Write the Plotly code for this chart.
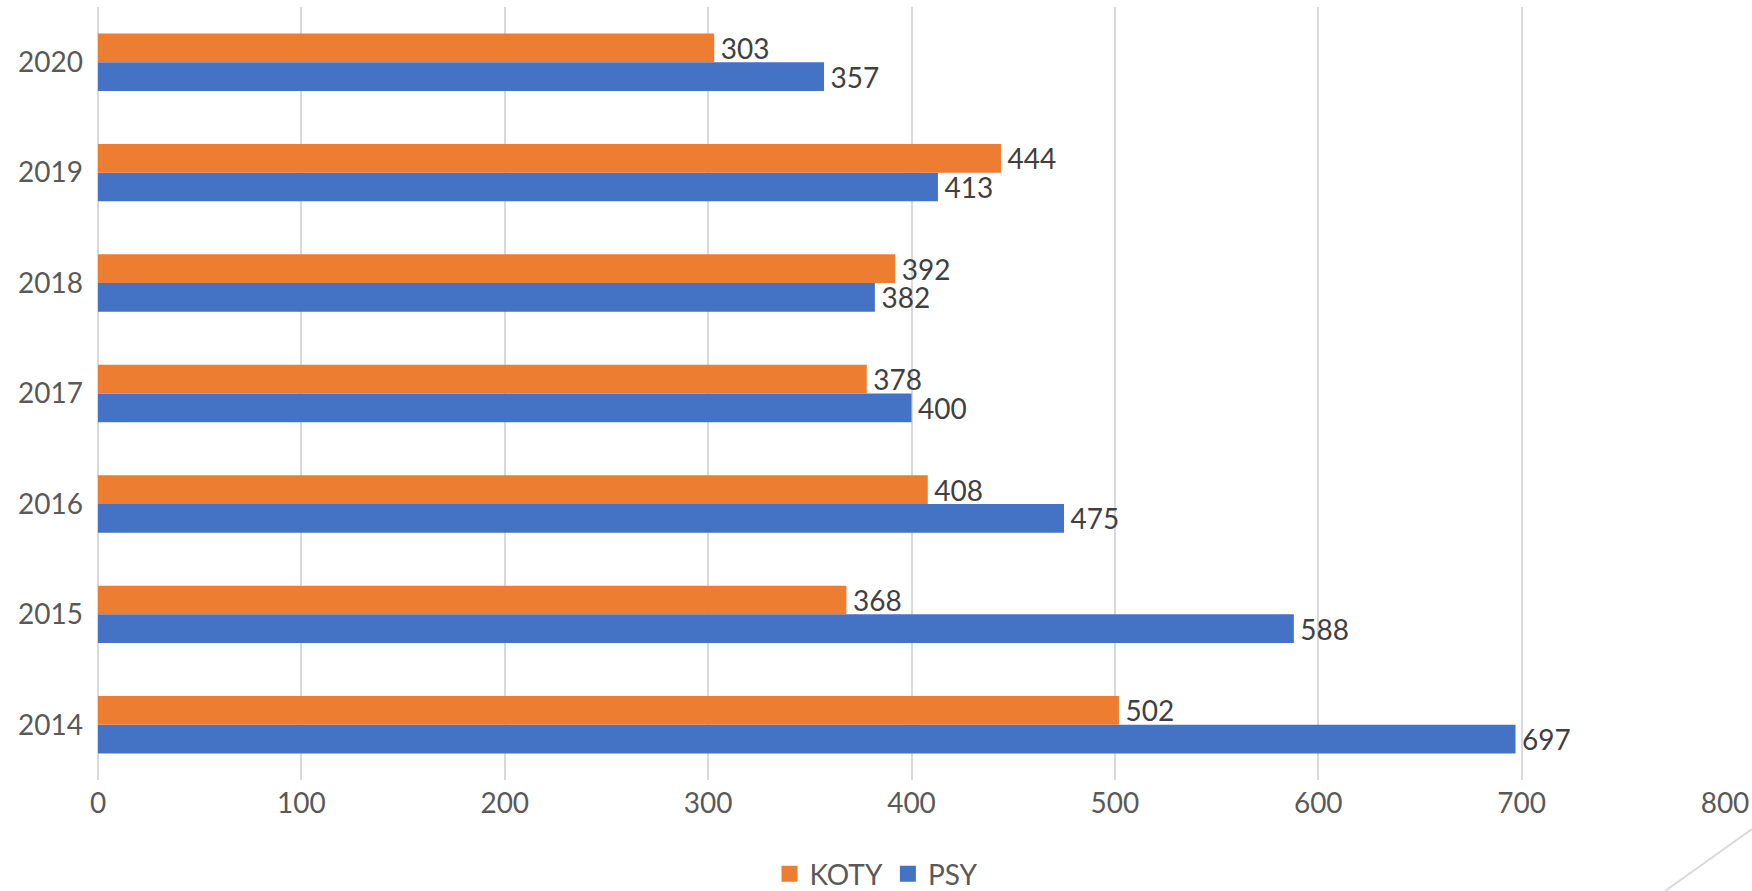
import plotly.graph_objects as go

years = ["2014", "2015", "2016", "2017", "2018", "2019", "2020"]
koty = [502, 368, 408, 378, 392, 444, 303]
psy = [697, 588, 475, 400, 382, 413, 357]
x_ticks = [0, 100, 200, 300, 400, 500, 600, 700, 800]

FONT = "Lato, Carlito, Calibri, sans-serif"
ORANGE = "#ED7D31"
BLUE = "#4472C4"

fig = go.Figure()
fig.add_trace(go.Bar(
    y=years, x=psy, name="PSY", orientation="h",
    marker=dict(color=BLUE, line=dict(width=0)),
    text=psy, texttemplate="\u2009%{x}", textposition="outside",
    textfont=dict(family=FONT, size=28, color="#404040"),
    constraintext="none", cliponaxis=False, showlegend=False,
))
fig.add_trace(go.Bar(
    y=years, x=koty, name="KOTY", orientation="h",
    marker=dict(color=ORANGE, line=dict(width=0)),
    text=koty, texttemplate="\u2009%{x}", textposition="outside",
    textfont=dict(family=FONT, size=28, color="#404040"),
    constraintext="none", cliponaxis=False, showlegend=False,
))
# legend entries with larger square keys
for name, color in [("KOTY", ORANGE), ("PSY", BLUE)]:
    fig.add_trace(go.Scatter(
        x=[None], y=[None], mode="markers", name=name,
        marker=dict(symbol="square", size=19, color=color),
        showlegend=True, hoverinfo="skip",
    ))

fig.update_layout(
    width=1752, height=891,
    margin=dict(l=98, r=27, t=7, b=111, autoexpand=False),
    paper_bgcolor="white", plot_bgcolor="white",
    barmode="group", bargap=0.48, bargroupgap=0,
    font=dict(family=FONT, size=28, color="#595959"),
    showlegend=True,
    legend=dict(
        orientation="h",
        xref="container", yref="container",
        x=0.5, xanchor="center", y=0.019, yanchor="middle",
        font=dict(family=FONT, size=28, color="#595959"),
        itemsizing="trace", itemwidth=30,
    ),
    xaxis=dict(
        range=[0, 800], tickvals=x_ticks, ticktext=[str(v) for v in x_ticks],
        showgrid=True, gridcolor="#d9d9d9", gridwidth=2,
        zeroline=True, zerolinecolor="#d9d9d9", zerolinewidth=2,
        showline=False, ticks="", ticklabelstandoff=4,
        tickfont=dict(family=FONT, size=28, color="#595959"),
        fixedrange=True, automargin=False,
    ),
    yaxis=dict(
        type="category", categoryorder="array", categoryarray=years,
        showgrid=False, zeroline=False, showline=False, ticks="",
        ticklabelstandoff=14,
        tickfont=dict(family=FONT, size=28, color="#595959"),
        fixedrange=True, automargin=False,
    ),
    shapes=[dict(
        type="line", xref="paper", yref="paper",
        x0=(1665 - 98) / (1752 - 98 - 27), y0=-111 / 773,
        x1=(1752 - 98) / (1752 - 98 - 27), y1=(-111 + 62) / 773,
        line=dict(color="#d9d9d9", width=2), layer="below",
    )],
)

fig.write_html(
    "out.html",
    config={"displayModeBar": False},
    post_script="document.body.style.margin='0';document.body.style.overflow='hidden';",
)
